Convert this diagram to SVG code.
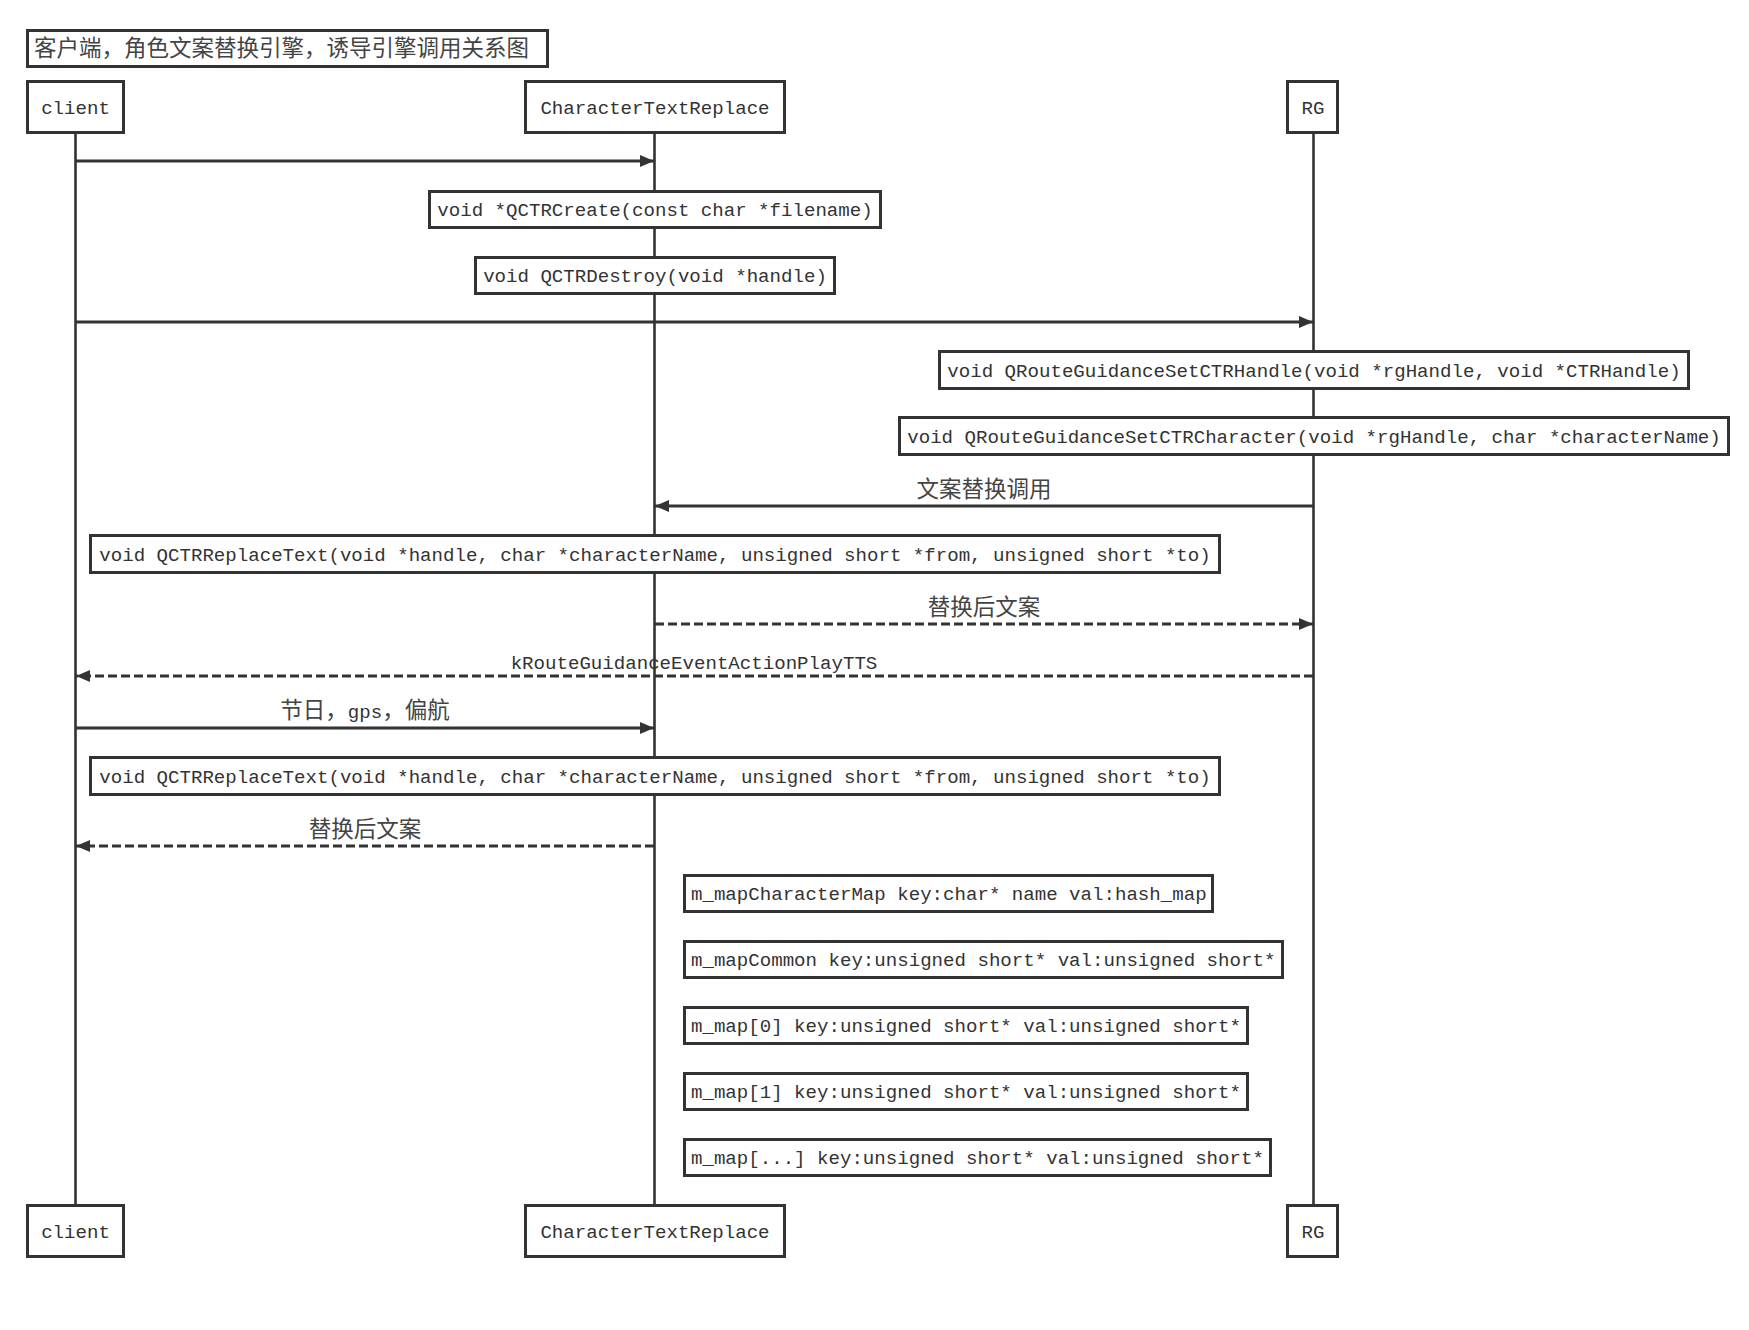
<svg xmlns="http://www.w3.org/2000/svg" width="1749" height="1330" viewBox="0 0 1749 1330">
<style>
  .box { fill: #ffffff; stroke: #333333; stroke-width: 3; }
  .life { stroke: #333333; stroke-width: 2.6; fill: none; }
  .msg { stroke: #333333; stroke-width: 3; fill: none; marker-end: url(#arrow); }
  .dash { stroke-dasharray: 9 4; }
  .mono { font-family: "Liberation Mono", "DejaVu Sans Mono", monospace; font-size: 19.1px; fill: #333333; }
  .cjk { font-family: "Noto Sans CJK SC", "Noto Sans", sans-serif; font-size: 22.5px; fill: #444444; }
  .mid { text-anchor: middle; }
</style>
<defs>
  <marker id="arrow" viewBox="0 0 14 12" refX="14" refY="6" markerWidth="14" markerHeight="12" markerUnits="userSpaceOnUse" orient="auto">
    <path d="M0,0 L14,6 L0,12 z" fill="#333333"/>
  </marker>
</defs>
<rect x="0" y="0" width="1749" height="1330" fill="#ffffff"/>

<g id="lifelines">
  <line class="life" x1="75.5" y1="133" x2="75.5" y2="1205"/>
  <line class="life" x1="654.5" y1="133" x2="654.5" y2="1205"/>
  <line class="life" x1="1313.5" y1="133" x2="1313.5" y2="1205"/>
</g>

<g id="title">
  <rect class="box" x="27.5" y="30.5" width="520" height="36"/>
  <text class="cjk" x="34" y="56">客户端，角色文案替换引擎，诱导引擎调用关系图</text>
</g>

<g id="client-top">
  <rect class="box" x="27.5" y="81.5" width="96" height="51"/>
  <text class="mono mid" x="75.5" y="114">client</text>
</g>
<g id="ctr-top">
  <rect class="box" x="525.5" y="81.5" width="259" height="51"/>
  <text class="mono mid" x="655" y="114">CharacterTextReplace</text>
</g>
<g id="rg-top">
  <rect class="box" x="1287.5" y="81.5" width="50" height="51"/>
  <text class="mono mid" x="1313" y="114">RG</text>
</g>

<g id="create">
  <rect class="box" x="429.5" y="191.5" width="451" height="36"/>
  <text class="mono mid" x="655" y="216">void *QCTRCreate(const char *filename)</text>
</g>
<g id="destroy">
  <rect class="box" x="475.5" y="257.5" width="359" height="36"/>
  <text class="mono mid" x="655" y="282">void QCTRDestroy(void *handle)</text>
</g>
<g id="set-handle">
  <rect class="box" x="939.5" y="351.5" width="749" height="37"/>
  <text class="mono mid" x="1314" y="377">void QRouteGuidanceSetCTRHandle(void *rgHandle, void *CTRHandle)</text>
</g>
<g id="set-character">
  <rect class="box" x="899.5" y="417.5" width="829" height="37"/>
  <text class="mono mid" x="1314" y="443">void QRouteGuidanceSetCTRCharacter(void *rgHandle, char *characterName)</text>
</g>
<g id="replace-1">
  <rect class="box" x="90.5" y="535.5" width="1129" height="37"/>
  <text class="mono mid" x="655" y="561">void QCTRReplaceText(void *handle, char *characterName, unsigned short *from, unsigned short *to)</text>
</g>
<g id="replace-2">
  <rect class="box" x="90.5" y="757.5" width="1129" height="37"/>
  <text class="mono mid" x="655" y="783">void QCTRReplaceText(void *handle, char *characterName, unsigned short *from, unsigned short *to)</text>
</g>

<g id="map-character">
  <rect class="box" x="684.5" y="875.5" width="528" height="36"/>
  <text class="mono" x="691" y="900">m_mapCharacterMap key:char* name val:hash_map</text>
</g>
<g id="map-common">
  <rect class="box" x="684.5" y="941.5" width="598" height="36"/>
  <text class="mono" x="691" y="966">m_mapCommon key:unsigned short* val:unsigned short*</text>
</g>
<g id="map-0">
  <rect class="box" x="684.5" y="1007.5" width="563" height="36"/>
  <text class="mono" x="691" y="1032">m_map[0] key:unsigned short* val:unsigned short*</text>
</g>
<g id="map-1">
  <rect class="box" x="684.5" y="1073.5" width="563" height="36"/>
  <text class="mono" x="691" y="1098">m_map[1] key:unsigned short* val:unsigned short*</text>
</g>
<g id="map-n">
  <rect class="box" x="684.5" y="1139.5" width="586" height="36"/>
  <text class="mono" x="691" y="1164">m_map[...] key:unsigned short* val:unsigned short*</text>
</g>

<g id="client-bottom">
  <rect class="box" x="27.5" y="1205.5" width="96" height="51"/>
  <text class="mono mid" x="75.5" y="1238">client</text>
</g>
<g id="ctr-bottom">
  <rect class="box" x="525.5" y="1205.5" width="259" height="51"/>
  <text class="mono mid" x="655" y="1238">CharacterTextReplace</text>
</g>
<g id="rg-bottom">
  <rect class="box" x="1287.5" y="1205.5" width="50" height="51"/>
  <text class="mono mid" x="1313" y="1238">RG</text>
</g>

<g id="connectors">
  <line class="msg" x1="76" y1="161" x2="654" y2="161"/>
  <line class="msg" x1="76" y1="322" x2="1313" y2="322"/>
  <line class="msg" x1="1313" y1="506" x2="655" y2="506"/>
  <text class="cjk mid" x="984" y="497">文案替换调用</text>
  <line class="msg dash" x1="655" y1="624" x2="1313" y2="624"/>
  <text class="cjk mid" x="984" y="615">替换后文案</text>
  <line class="msg dash" x1="1313" y1="676" x2="76" y2="676"/>
  <text class="mono mid" x="694" y="669">kRouteGuidanceEventActionPlayTTS</text>
  <line class="msg" x1="76" y1="728" x2="654" y2="728"/>
  <text class="mid" x="365" y="718"><tspan class="cjk">节日，</tspan><tspan class="mono">gps</tspan><tspan class="cjk">，偏航</tspan></text>
  <line class="msg dash" x1="654" y1="846" x2="76" y2="846"/>
  <text class="cjk mid" x="365" y="837">替换后文案</text>
</g>
</svg>
